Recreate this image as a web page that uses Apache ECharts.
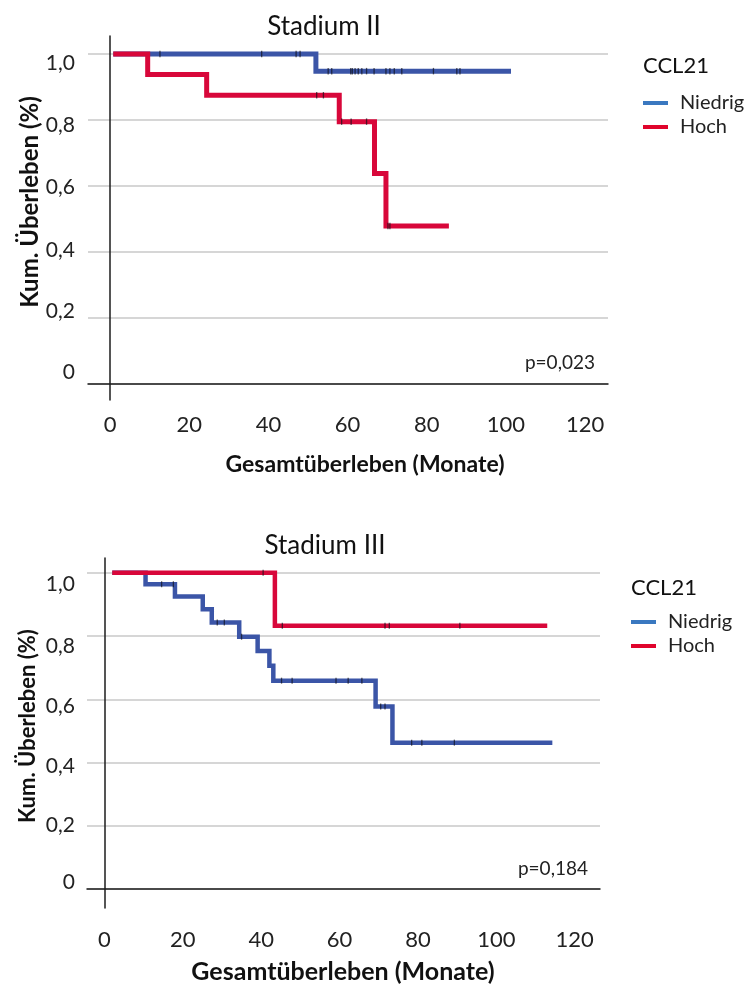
<!DOCTYPE html>
<html>
<head>
<meta charset="utf-8">
<script src="https://cdn.jsdelivr.net/npm/echarts@6/dist/echarts.min.js"></script>
<style>
  html, body { margin: 0; padding: 0; background: #fff; }
  #chart { width: 749px; height: 985px; }
</style>
</head>
<body>
<div id="chart"></div>
<script>
// Kaplan-Meier curves, overall survival by CCL21 expression, stage II and stage III

const monthTicks = [0, 20, 40, 60, 80, 100, 120];
const survivalTicks = [0, 0.2, 0.4, 0.6, 0.8, 1.0];

// Stadium II
const s2NiedrigTimes = [0.8, 52.0, 101.3];
const s2NiedrigSurv = [1.0, 0.948, 0.948];
const s2NiedrigCensored = [12.6, 38.3, 47.0, 48.0, 55.1, 56.0, 60.8, 61.2, 61.9, 62.7, 63.6, 64.8, 66.7, 69.7, 70.7, 71.8, 73.7, 81.7, 87.6, 88.4];
const s2HochTimes = [0.8, 9.5, 24.4, 57.9, 66.8, 69.7, 85.6];
const s2HochSurv = [1.0, 0.9375, 0.875, 0.795, 0.638, 0.479, 0.479];
const s2HochCensored = [52.2, 53.9, 58.5, 60.9, 64.8, 70.2, 70.7];

// Stadium III
const s3NiedrigTimes = [2.0, 10.5, 18.0, 25.1, 27.4, 34.4, 39.1, 42.1, 43.1, 69.2, 73.5, 114.3];
const s3NiedrigSurv = [1.0, 0.964, 0.925, 0.885, 0.843, 0.798, 0.753, 0.706, 0.659, 0.577, 0.463, 0.463];
const s3NiedrigCensored = [14.6, 17.6, 28.8, 30.6, 35.0, 45.2, 47.9, 59.1, 62.2, 65.7, 70.5, 71.6, 78.4, 81.0, 89.3];
const s3HochTimes = [2.0, 43.5, 113.0];
const s3HochSurv = [1.0, 0.833, 0.833];
const s3HochCensored = [40.5, 45.4, 71.6, 72.7, 90.7];

const groupNames = ['Niedrig', 'Hoch'];
const stageTitles = ['Stadium II', 'Stadium III'];
const pValues = ['p=0,023', 'p=0,184'];

const FONT = 'Lato, "Open Sans", sans-serif';
const BLUE = '#3b55a7';
const RED = '#d8073a';
const LEGEND_BLUE = '#3a78c0';
const LEGEND_RED = '#e0042c';
const GRID_GREY = '#c9c9c9';
const INK = '#1c1c1c';

function stepPoints(times, surv) {
  return times.map((t, i) => [t, surv[i]]);
}
function survAt(times, surv, t) {
  let s = surv[0];
  for (let i = 0; i < times.length; i++) if (times[i] <= t) s = surv[i];
  return s;
}
function censorPoints(times, surv, cens) {
  return cens.map(t => [t, survAt(times, surv, t)]);
}
function fmtSurv(v) {
  return v === 0 ? '0' : v.toFixed(1).replace('.', ',');
}

// per-panel layout
const panels = [
  {
    grid: { left: 88, top: 36, width: 520, height: 364 },
    xMin: -5.58, xMax: 125.8, yMin: -0.0485, yMax: 1.0545,
    lineWidth: 5, xLabelMargin: 14, yLabelMargin: 13,
    labelShift: [-12, -7, -2, 1, 5, 9],
    data: [
      [s2NiedrigTimes, s2NiedrigSurv, s2NiedrigCensored],
      [s2HochTimes, s2HochSurv, s2HochCensored]
    ],
    title: { x: 324, y: 27 },
    legend: { x: 643, titleY: 66, top: 92 },
    p: { x: 595, y: 363 },
    xName: { x: 365, y: 465, size: 23 },
    yName: { x: 30, y: 202, size: 24 }
  },
  {
    grid: { left: 87, top: 558, width: 513, height: 350 },
    xMin: -4.44, xMax: 126.46, yMin: -0.060, yMax: 1.047,
    lineWidth: 4.5, xLabelMargin: 21, yLabelMargin: 12,
    labelShift: [-7, -1, 4, 7, 10, 11],
    data: [
      [s3NiedrigTimes, s3NiedrigSurv, s3NiedrigCensored],
      [s3HochTimes, s3HochSurv, s3HochCensored]
    ],
    title: { x: 325, y: 546 },
    legend: { x: 631, titleY: 588, top: 611 },
    p: { x: 588, y: 869 },
    xName: { x: 343, y: 972, size: 25 },
    yName: { x: 28, y: 726, size: 22 }
  }
];

const option = {
  animation: false,
  backgroundColor: '#ffffff',
  textStyle: { fontFamily: FONT },
  title: [],
  legend: [],
  grid: [],
  xAxis: [],
  yAxis: [],
  series: [],
  graphic: []
};

panels.forEach((p, idx) => {
  option.grid.push(p.grid);

  option.xAxis.push({
    type: 'value', gridIndex: idx, min: p.xMin, max: p.xMax,
    axisLine: { show: true, lineStyle: { color: INK, width: 1.5 } },
    axisTick: { show: false },
    splitLine: { show: false },
    axisLabel: {
      customValues: monthTicks, margin: p.xLabelMargin,
      fontSize: 22, color: '#222', fontFamily: FONT
    }
  });

  const rich = {};
  p.labelShift.forEach((d, k) => {
    rich['t' + k] = {
      fontSize: 21, color: '#222', fontFamily: FONT,
      padding: d >= 0 ? [2 * d, 0, 0, 0] : [0, 0, -2 * d, 0]
    };
  });
  option.yAxis.push({
    type: 'value', gridIndex: idx, min: p.yMin, max: p.yMax,
    axisLine: { show: true, lineStyle: { color: INK, width: 1.5 } },
    axisTick: { show: false, customValues: survivalTicks },
    splitLine: { show: true, lineStyle: { color: GRID_GREY, width: 1.5 } },
    axisLabel: {
      customValues: survivalTicks, margin: p.yLabelMargin,
      formatter: v => '{t' + Math.round(v * 5) + '|' + fmtSurv(v) + '}',
      rich: rich
    }
  });

  const colors = [BLUE, RED];
  p.data.forEach((g, gi) => {
    const [times, surv, cens] = g;
    option.series.push({
      name: groupNames[gi], type: 'line', step: 'end',
      xAxisIndex: idx, yAxisIndex: idx,
      data: stepPoints(times, surv),
      showSymbol: false, symbol: 'none', z: 3 + gi,
      itemStyle: { color: colors[gi] },
      lineStyle: { color: colors[gi], width: p.lineWidth, cap: 'butt', join: 'miter' },
      emphasis: { disabled: true }
    });
    option.series.push({
      type: 'scatter', xAxisIndex: idx, yAxisIndex: idx,
      data: censorPoints(times, surv, cens),
      symbol: 'rect', symbolSize: [1.3, p.lineWidth + 1.5], z: 6, silent: true,
      itemStyle: { color: 'rgba(15,15,25,0.85)' },
      emphasis: { disabled: true }
    });
  });

  option.title.push({
    text: stageTitles[idx], left: p.title.x, top: p.title.y - 13, textAlign: 'center', padding: 0,
    textStyle: { fontSize: 26, lineHeight: 26, fontWeight: 'normal', color: '#111', fontFamily: FONT }
  });
  option.title.push({
    text: 'CCL21', left: p.legend.x, top: p.legend.titleY - 12, padding: 0,
    textStyle: { fontSize: 22, lineHeight: 24, fontWeight: 'normal', color: '#111', fontFamily: FONT }
  });

  option.legend.push({
    left: p.legend.x, top: p.legend.top, orient: 'vertical', padding: 0,
    icon: 'rect', itemWidth: 25, itemHeight: 4, itemGap: 2, selectedMode: false,
    textStyle: { fontSize: 20, lineHeight: 22, color: '#222', fontFamily: FONT, padding: [0, 0, 0, 7] },
    data: [
      { name: 'Niedrig', itemStyle: { color: LEGEND_BLUE } },
      { name: 'Hoch', itemStyle: { color: LEGEND_RED } }
    ]
  });

  option.graphic.push({
    type: 'text', x: p.p.x, y: p.p.y, silent: true,
    style: { text: pValues[idx], align: 'right', verticalAlign: 'middle', fill: '#222', font: '19px ' + FONT }
  });
  option.graphic.push({
    type: 'text', x: p.xName.x, y: p.xName.y, silent: true,
    style: { text: 'Gesamtüberleben (Monate)', align: 'center', verticalAlign: 'middle', fill: '#111', font: 'bold ' + p.xName.size + 'px ' + FONT }
  });
  option.graphic.push({
    type: 'text', x: p.yName.x, y: p.yName.y, rotation: Math.PI / 2, silent: true,
    style: { text: 'Kum. Überleben (%)', align: 'center', verticalAlign: 'middle', fill: '#111', font: 'bold ' + p.yName.size + 'px ' + FONT }
  });
});

const chart = echarts.init(document.getElementById('chart'), null, { renderer: 'canvas' });
chart.setOption(option);
</script>
</body>
</html>
